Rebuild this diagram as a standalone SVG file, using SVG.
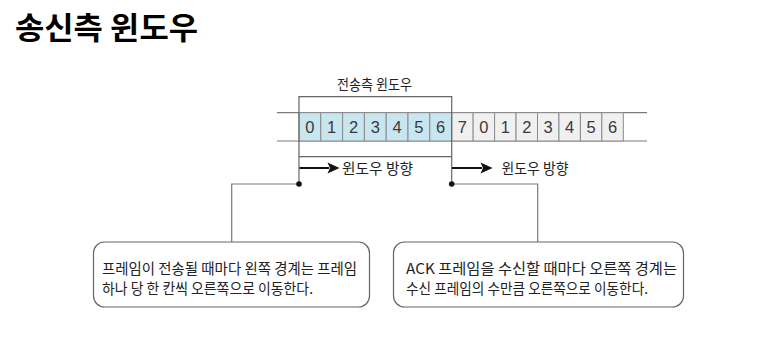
<svg xmlns="http://www.w3.org/2000/svg" width="782" height="348" viewBox="0 0 782 348">
<style>
.t{font-family:"Noto Sans CJK KR","Noto Sans",sans-serif;fill:#222;font-size:14.5px}
.d{font-family:"Liberation Sans","Noto Sans",sans-serif;fill:#3a3a3a;font-size:16.5px;text-anchor:middle}
.cb{fill:#c8e6ef;stroke:#8a8a8a;stroke-width:1}
.cg{fill:#f0f0f0;stroke:#8a8a8a;stroke-width:1}
.ln{stroke:#7a7a7a;stroke-width:1.2;fill:none}
.box{fill:#fff;stroke:#666;stroke-width:1.2}
.ar{stroke:#111;stroke-width:2;fill:none}
.ah{fill:#111}
</style>
<rect width="782" height="348" fill="#fff"/>
<text x="15" y="39" textLength="183" lengthAdjust="spacingAndGlyphs" style="font-family:'Noto Sans CJK KR',sans-serif;font-weight:bold;font-size:31px;fill:#000">송신측 윈도우</text>

<g id="strip">
<line x1="277" y1="112.7" x2="647" y2="112.7" class="ln"/>
<line x1="277" y1="141" x2="647" y2="141" class="ln"/>
<rect x="299" y="112.7" width="21.8" height="28.3" class="cb"/>
<rect x="320.8" y="112.7" width="21.8" height="28.3" class="cb"/>
<rect x="342.6" y="112.7" width="21.8" height="28.3" class="cb"/>
<rect x="364.4" y="112.7" width="21.8" height="28.3" class="cb"/>
<rect x="386.2" y="112.7" width="21.8" height="28.3" class="cb"/>
<rect x="408" y="112.7" width="21.8" height="28.3" class="cb"/>
<rect x="429.8" y="112.7" width="21.9" height="28.3" class="cb"/>
<rect x="451.7" y="112.7" width="21.45" height="28.3" class="cg"/>
<rect x="473.15" y="112.7" width="21.45" height="28.3" class="cg"/>
<rect x="494.6" y="112.7" width="21.45" height="28.3" class="cg"/>
<rect x="516.05" y="112.7" width="21.45" height="28.3" class="cg"/>
<rect x="537.5" y="112.7" width="21.45" height="28.3" class="cg"/>
<rect x="558.95" y="112.7" width="21.45" height="28.3" class="cg"/>
<rect x="580.4" y="112.7" width="21.45" height="28.3" class="cg"/>
<rect x="601.85" y="112.7" width="21.45" height="28.3" class="cg"/>
<text class="d" x="309.9" y="133">0</text>
<text class="d" x="331.7" y="133">1</text>
<text class="d" x="353.5" y="133">2</text>
<text class="d" x="375.3" y="133">3</text>
<text class="d" x="397.1" y="133">4</text>
<text class="d" x="418.9" y="133">5</text>
<text class="d" x="440.7" y="133">6</text>
<text class="d" x="462.4" y="133">7</text>
<text class="d" x="483.9" y="133">0</text>
<text class="d" x="505.3" y="133">1</text>
<text class="d" x="526.8" y="133">2</text>
<text class="d" x="548.2" y="133">3</text>
<text class="d" x="569.7" y="133">4</text>
<text class="d" x="591.1" y="133">5</text>
<text class="d" x="612.6" y="133">6</text>
</g>

<g id="window">
<path d="M299,184 V96.7 H451.7 V184 M299,156.7 H451.7" fill="none" stroke="#666" stroke-width="1.2"/>
<text class="t" x="337" y="90" textLength="75" lengthAdjust="spacingAndGlyphs">전송측 윈도우</text>
</g>

<g id="connectors">
<line x1="299.5" y1="168" x2="329" y2="168" class="ar"/>
<path d="M327.5,162.5 L339.5,168 L327.5,173.5 L330,168 z" class="ah"/>
<line x1="452" y1="168" x2="482" y2="168" class="ar"/>
<path d="M480.5,162.5 L492.5,168 L480.5,173.5 L483,168 z" class="ah"/>
<path d="M299,184 H231.7 V242" class="ln"/>
<path d="M451.7,184 H537.7 V242" class="ln"/>
<circle cx="299" cy="184" r="2.8" fill="#111"/>
<circle cx="451.7" cy="184" r="2.8" fill="#111"/>
</g>
<text class="t" x="342" y="173.5" textLength="71" lengthAdjust="spacingAndGlyphs">윈도우 방향</text>
<text class="t" x="501.5" y="173.5" textLength="67" lengthAdjust="spacingAndGlyphs">윈도우 방향</text>

<g id="note-left">
<rect x="93.5" y="242" width="276" height="65" rx="11" class="box"/>
<text class="t" x="102" y="274" textLength="255" lengthAdjust="spacingAndGlyphs">프레임이 전송될 때마다 왼쪽 경계는 프레임</text>
<text class="t" x="102" y="294" textLength="211" lengthAdjust="spacingAndGlyphs">하나 당 한 칸씩 오른쪽으로 이동한다.</text>
</g>

<g id="note-right">
<rect x="393.5" y="242" width="290" height="65" rx="11" class="box"/>
<text class="t" x="406" y="274" textLength="271" lengthAdjust="spacingAndGlyphs">ACK 프레임을 수신할 때마다 오른쪽 경계는</text>
<text class="t" x="406" y="294" textLength="242" lengthAdjust="spacingAndGlyphs">수신 프레임의 수만큼 오른쪽으로 이동한다.</text>
</g>
</svg>
